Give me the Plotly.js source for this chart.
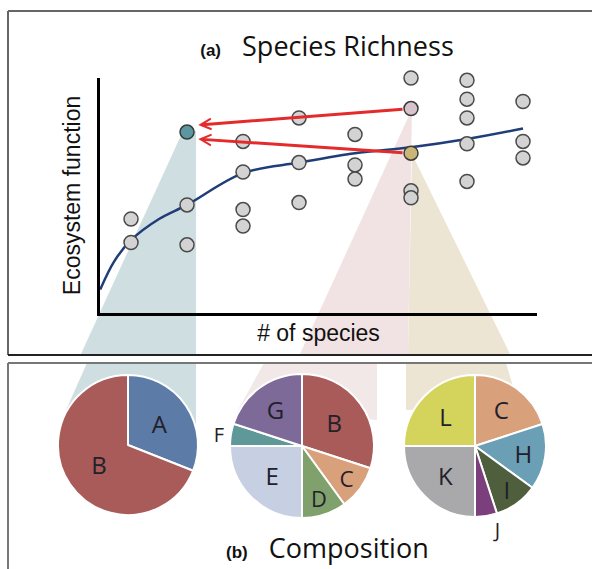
<!DOCTYPE html>
<html><head><meta charset="utf-8">
<script src="https://cdn.plot.ly/plotly-3.0.1.min.js"></script>
<style>html,body{margin:0;padding:0;background:#fff}#chart{width:592px;height:569px}</style>
</head><body><div id="chart"></div>
<script>
// ---- data ----
const richness = [1,1, 2,2, 3,3,3,3, 4,4,4, 5,5,5, 6,6,6, 7,7,7,7,7, 8,8,8];
const ecoFunction = [4.0,3.0, 4.6,2.9, 7.3,6.0,4.4,3.7, 8.3,6.4,4.7, 7.6,6.3,5.7, 10.0,5.2,4.9, 9.9,9.1,8.3,7.2,5.6, 9.0,7.3,6.6];
const highlightRichness = [2, 6, 6];
const highlightFunction = [7.7, 8.7, 6.8];
const highlightColors = ['#5a979e', '#d8c2cb', '#c9b676'];
const curveRichness = [0.45, 0.7, 1, 1.5, 2, 3, 4, 5, 6, 7, 8];
const curveFunction = [1.0, 2.2, 3.1, 4.0, 4.6, 5.95, 6.4, 6.8, 7.05, 7.4, 7.85];

const pie1Labels = ['A','B'];
const pie1Values = [31, 69];
const pie1Colors = ['#5c7ba6','#a85b58'];
const pie2Labels = ['B','C','D','E','F','G'];
const pie2Values = [30, 10, 10, 25, 5, 20];
const pie2Colors = ['#a85b58','#d9a07c','#80a06c','#c6d0e2','#5e9898','#7e6a98'];
const pie3Labels = ['C','H','I','J','K','L'];
const pie3Values = [20, 15, 10, 5, 25, 25];
const pie3Colors = ['#d9a07c','#6a9fb6','#4f5f3e','#7c3f7e','#a9a9ab','#d4d45c'];

// ---- layout helpers (pixel -> paper) ----
const W = 592, H = 569;
const px = x => x / W;
const py = y => 1 - y / H;
const path = pts => 'M' + pts.map(p => px(p[0]).toFixed(4) + ',' + py(p[1]).toFixed(4)).join(' L') + ' Z';
const dom = (x0, x1, y0, y1) => ({x: [px(x0), px(x1)], y: [py(y1), py(y0)]});

const labelFont = {family: 'Open Sans, sans-serif', size: 24, color: '#22202a'};
function pie(labels, values, colors, domain) {
  // small slices carry their letter just outside, like the reference
  const pos = values.map(v => v <= 5 ? 'outside' : 'inside');
  return {type: 'pie', labels: labels, values: values, sort: false, direction: 'clockwise',
    rotation: 0, marker: {colors: colors, line: {color: '#ffffff', width: 2}},
    textinfo: 'label', textposition: pos, insidetextorientation: 'horizontal',
    textfont: labelFont, insidetextfont: labelFont, outsidetextfont: {family: 'Open Sans, sans-serif', size: 20, color: '#22202a'},
    automargin: false, hoverinfo: 'none', showlegend: false, domain: domain};
}

const traces = [
  {type: 'scatter', mode: 'lines', x: curveRichness, y: curveFunction,
   line: {color: '#1f3d78', width: 2.5, shape: 'spline'}, hoverinfo: 'none', showlegend: false, cliponaxis: false},
  {type: 'scatter', mode: 'markers', x: richness, y: ecoFunction,
   marker: {size: 14, color: '#d3d3d3', line: {color: '#4a4a4a', width: 1.5}}, hoverinfo: 'none', showlegend: false, cliponaxis: false},
  {type: 'scatter', mode: 'markers', x: highlightRichness, y: highlightFunction,
   marker: {size: 14, color: highlightColors, line: {color: '#3a3a3a', width: 1.5}}, hoverinfo: 'none', showlegend: false, cliponaxis: false},
  pie(pie1Labels, pie1Values, pie1Colors, dom(58, 198, 375, 515)),
  pie(pie2Labels, pie2Values, pie2Colors, dom(230, 374, 374, 518)),
  pie(pie3Labels, pie3Values, pie3Colors, dom(404, 546, 375, 517))
];

const beams = [
  {pts: [[183,131],[196,131],[196,354],[81,354]], c: '#cfdfe1'},
  {pts: [[412,109],[408,354],[300,354]], c: '#f1e3e3'},
  {pts: [[412,154],[510,354],[408,354]], c: '#ede5d3'},
  {pts: [[87,363],[196,363],[196,430],[66,410]], c: '#cfdfe1'},
  {pts: [[264,363],[377,363],[377,420],[238,410]], c: '#f3e8e8'},
  {pts: [[406,363],[506,363],[520,410],[406,410]], c: '#ede5d3'}
];
const shapes = beams.map(b => ({type: 'path', xref: 'paper', yref: 'paper', path: path(b.pts),
  fillcolor: b.c, line: {width: 0}, layer: 'below'}));
const border = (x0, y0, x1, y1, c) => ({type: 'line', xref: 'paper', yref: 'paper',
  x0: px(x0), y0: py(y0), x1: px(x1), y1: py(y1), line: {color: c, width: 2}, layer: 'above'});
shapes.push(border(8, 11, 8, 355, '#666'), border(8, 11, 600, 11, '#666'), border(8, 355, 600, 355, '#222'),
            border(8, 363, 600, 363, '#777'), border(8, 363, 8, 600, '#777'));

const teal = {x: highlightRichness[0], y: highlightFunction[0]};
const arrow = (tailIdx, dy) => ({xref: 'x', yref: 'y', axref: 'x', ayref: 'y',
  x: teal.x + 0.2, y: teal.y + dy, ax: highlightRichness[tailIdx], ay: highlightFunction[tailIdx],
  text: '', showarrow: true, arrowhead: 5, arrowsize: 0.7, arrowwidth: 3, arrowcolor: '#e42a2a', startstandoff: 7});

const layout = {
  width: W, height: H, margin: {l: 0, r: 0, t: 0, b: 0},
  paper_bgcolor: '#ffffff', plot_bgcolor: 'rgba(0,0,0,0)',
  font: {family: 'Liberation Sans, Arial, sans-serif', color: '#111'},
  title: {text: '<span style="font-family:Liberation Sans;font-size:17px;font-weight:bold">(a)</span>   Species Richness',
    font: {family: 'Open Sans, sans-serif', size: 27, color: '#111'},
    x: px(327), xanchor: 'center', xref: 'paper', y: py(47), yanchor: 'middle', yref: 'paper'},
  xaxis: {domain: [px(100), px(537)], range: [0.446, 8.25], showline: true, linecolor: '#000', linewidth: 3,
    showgrid: false, zeroline: false, showticklabels: false, ticks: '', fixedrange: true,
    title: {text: '# of species', font: {size: 23, color: '#111'}, standoff: 10}},
  yaxis: {domain: [py(313), py(78)], range: [0, 10], showline: true, linecolor: '#000', linewidth: 3,
    showgrid: false, zeroline: false, showticklabels: false, ticks: '', fixedrange: true,
    title: {text: 'Ecosystem function', font: {size: 23, color: '#111'}, standoff: 10}},
  shapes: shapes,
  annotations: [
    arrow(1, 0.3), arrow(2, -0.3),
    {xref: 'paper', yref: 'paper', x: px(327), y: py(547), xanchor: 'center', yanchor: 'middle', showarrow: false,
     text: '<span style="font-family:Liberation Sans;font-size:17px;font-weight:bold">(b)</span>   Composition',
     font: {family: 'Open Sans, sans-serif', size: 27, color: '#111'}}
  ]
};
Plotly.newPlot('chart', traces, layout, {staticPlot: true, displayModeBar: false});
</script></body></html>
